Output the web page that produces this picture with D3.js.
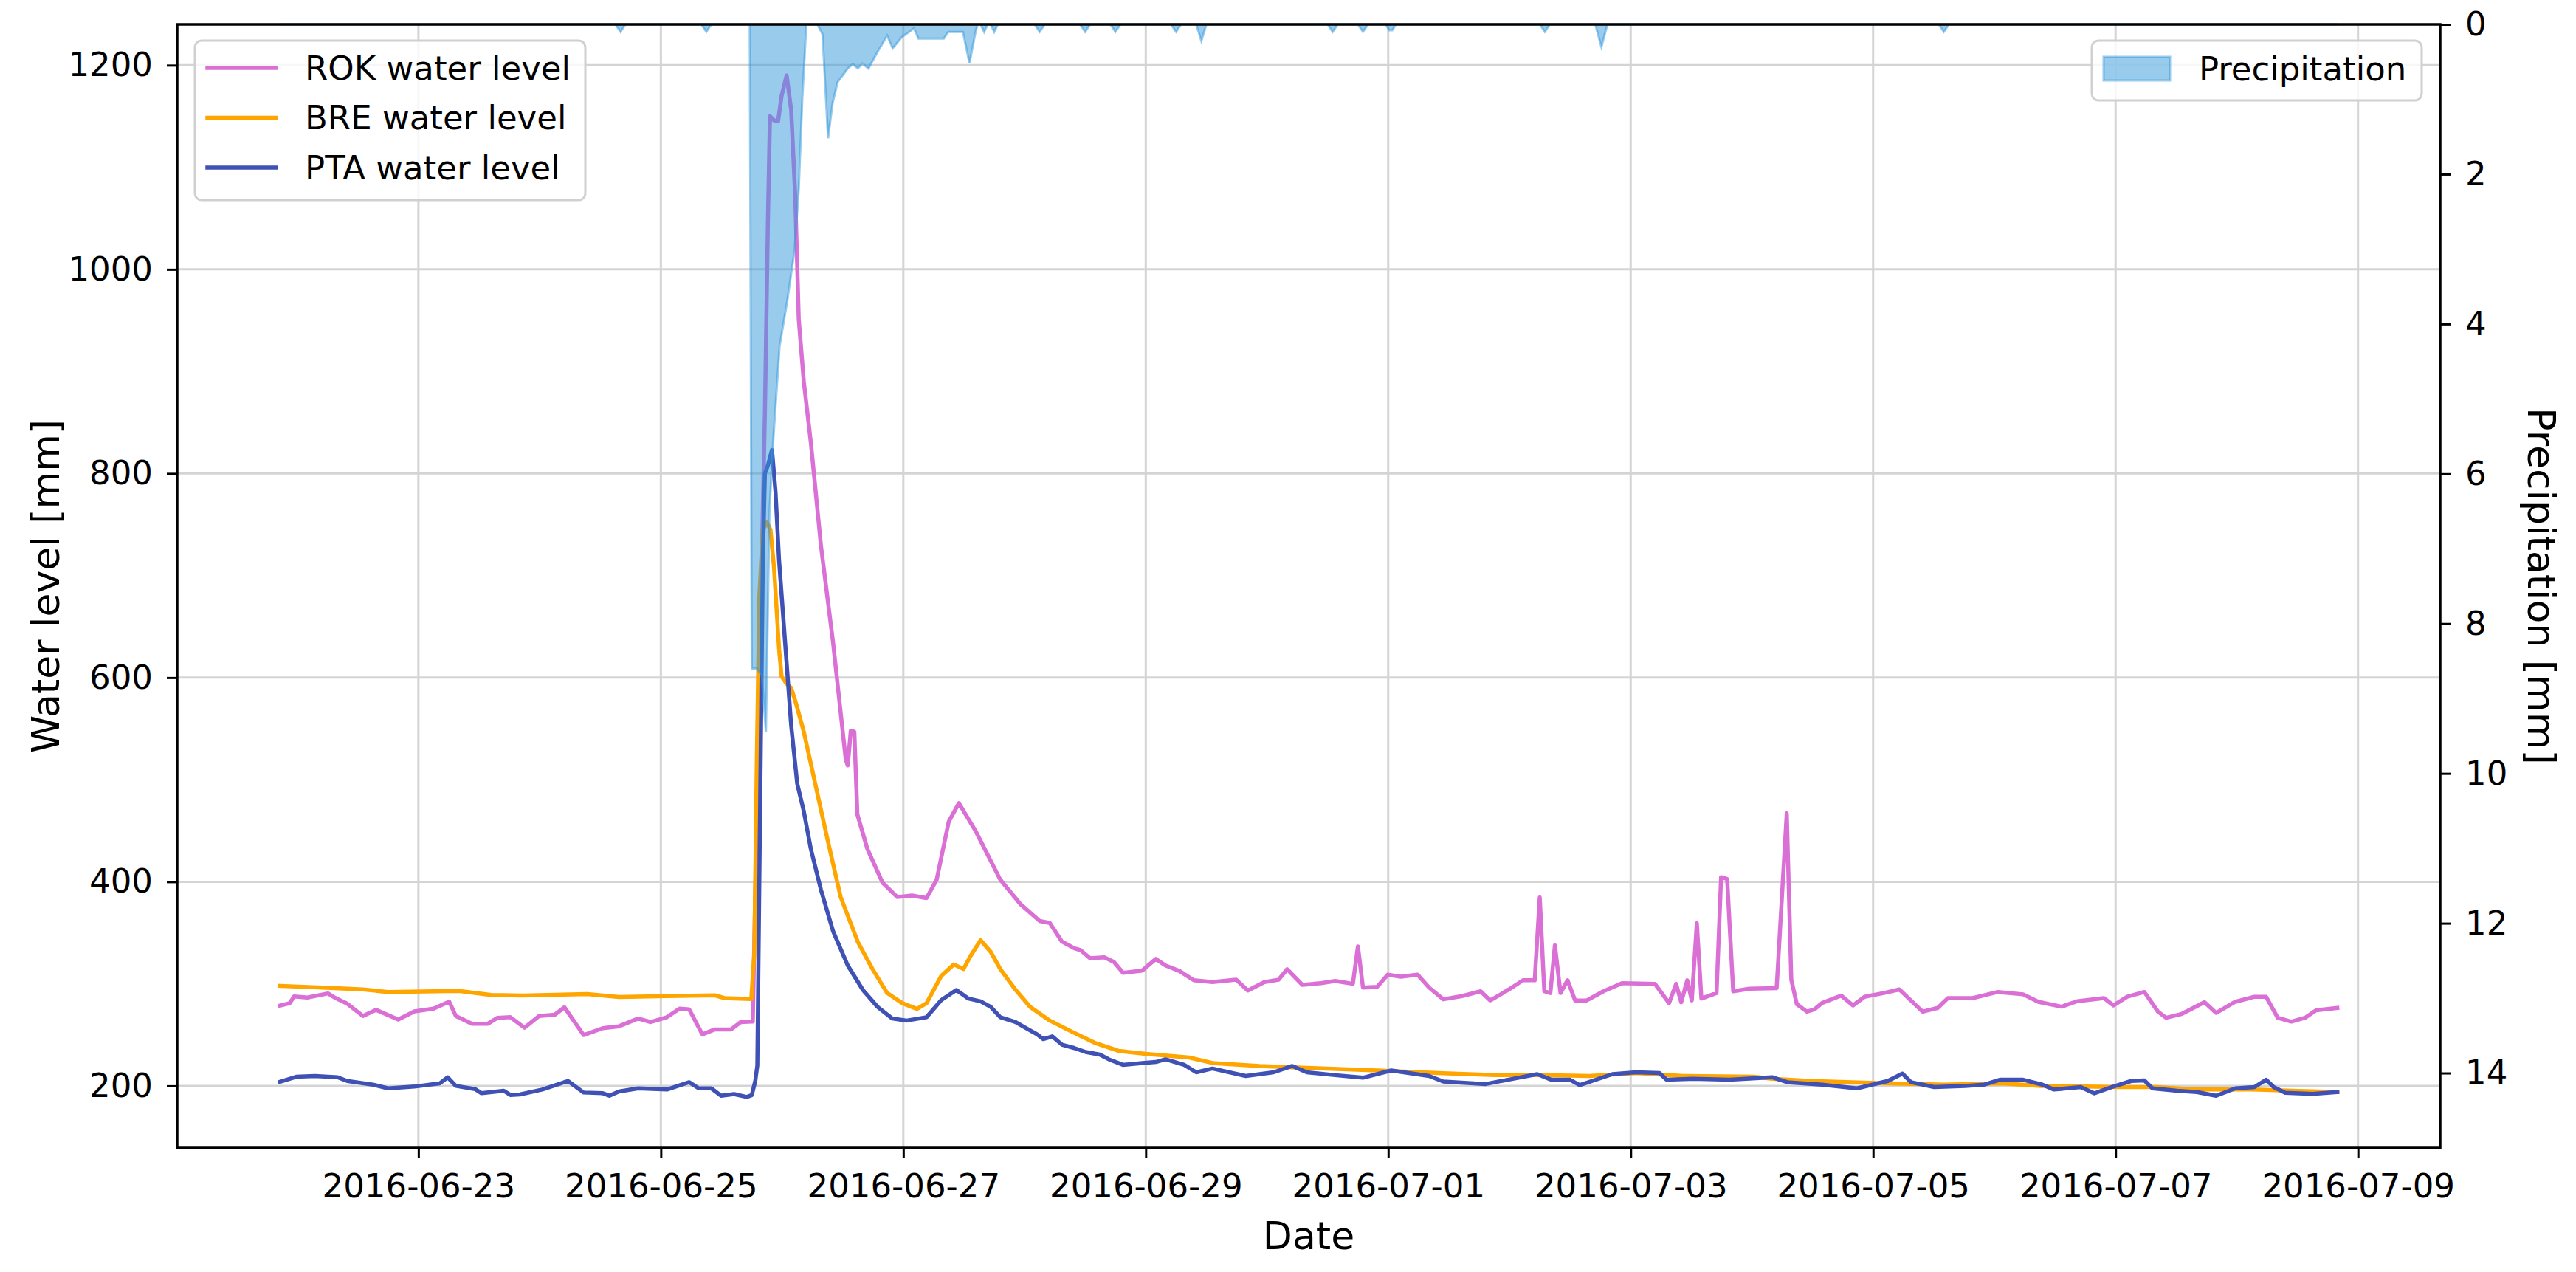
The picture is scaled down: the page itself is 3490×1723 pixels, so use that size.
<!DOCTYPE html>
<html>
<head>
<meta charset="utf-8">
<script src="https://cdn.jsdelivr.net/npm/d3@7"></script>
<style>
  html, body { margin: 0; padding: 0; background: #fff; }
  svg { display: block; font-family: 'DejaVu Sans', sans-serif; }
</style>
</head>
<body>
<div id="vis-main"></div>
<script>

/* Data */
/* ---- */

// hours since 2016-06-22 00:00 UTC, value
var baseTime = Date.UTC(2016, 5, 22);

var rokLevel = [
	[-3.4, 278.6], [-1.5, 281], [-0.6, 287.7], [2, 286.5], [6.1, 290.6], [7.4, 286.5], [9.9, 280.5],
	[13, 268.5], [15.6, 274.5], [20, 265], [23.2, 273], [27, 275.7], [30.1, 282.5], [31.4, 268.5],
	[34.6, 260.8], [37.7, 260.8], [39.6, 266.6], [42.2, 267.3], [45, 257], [47.9, 268.5], [51, 269.7],
	[52.9, 277], [56.7, 249.8], [60.5, 256.5], [63.7, 258.4], [67.5, 266], [70, 262.5], [73.2, 267.3],
	[75.7, 275.7], [77.6, 275], [80.2, 250.5], [82.7, 255.3], [85.9, 255.3], [87.8, 262.5], [90.2, 263],
	[91.2, 520], [92, 720], [92.6, 860], [93.2, 1050], [93.6, 1150], [94.4, 1146], [95.2, 1145],
	[95.9, 1170], [96.9, 1190], [97.8, 1156], [98.6, 1072], [99.3, 951], [100.3, 890], [101.7, 830],
	[103.7, 729], [106.1, 634], [108.6, 520], [109, 514], [109.6, 548], [110.3, 547], [110.9, 466],
	[112.9, 432], [115.9, 399], [118.8, 385], [121.7, 386.5], [124.6, 384], [126.6, 402], [129, 459],
	[131, 477], [134.4, 449], [139.2, 402], [143.1, 378.5], [147, 361.6], [149, 359.6], [151.4, 341.4],
	[153.9, 334.7], [155.1, 333], [157, 325], [159.8, 326], [161.7, 321.5], [163.5, 310.7], [167.3, 313],
	[170, 324.4], [171.9, 318], [174.7, 312.5], [177.5, 303.5], [181.2, 301.7], [185.9, 304], [188.2, 293.4],
	[191.5, 301.7], [194.3, 304], [196, 314.3], [199, 299], [202.7, 300.6], [205.5, 302.8], [209, 300],
	[210, 336.7], [211, 296.3], [213.8, 297], [215.9, 309], [218.5, 307], [221.8, 309], [224.1, 296.3],
	[226.9, 284.8], [230.6, 288], [234.3, 292.7], [236.2, 283.7], [239.9, 294.5], [242.7, 303.5], [245, 303.5],
	[246, 384.7], [246.9, 292.7], [248.1, 291], [249, 337.8], [250.1, 291], [251.5, 303.5], [253, 283.7],
	[255.3, 283.7], [258.6, 292.7], [262.3, 300.6], [268.8, 300], [271.6, 281], [273, 300], [274, 281.9],
	[275.2, 303.5], [276.1, 283.7], [277.1, 359.4], [278, 285.5], [281, 291], [281.9, 404.5], [283.1, 402.7],
	[284.3, 292.7], [287.5, 295.2], [292.9, 295.8], [294.9, 467], [295.8, 304], [296.9, 280], [298.9, 272.7],
	[300.4, 275], [301.9, 281.2], [305.7, 288.5], [308, 278.8], [310.3, 287.3], [314.1, 291], [317.2, 294.5],
	[321.8, 272.7], [324.8, 276.4], [326.8, 286], [331.7, 286], [336.7, 292], [341.7, 289.7], [344.7, 282.4],
	[349.3, 277.6], [352.4, 282.9], [357.7, 286], [359.6, 278.8], [362.3, 287.3], [365.7, 292], [368.4, 272.7],
	[370, 266.7], [373, 270.3], [377.6, 282], [379.9, 271.5], [383.7, 282.4], [387.5, 287.3], [389.8, 287.3],
	[392.1, 266.7], [394.8, 263], [397.5, 266.7], [399.7, 274], [403.9, 276.4]
];

var breLevel = [
	[-3.4, 298], [6.7, 296], [13, 294.5], [18, 292], [32, 293], [38.4, 289], [44.7, 288.5], [57.4, 290],
	[63.7, 287], [73.2, 288], [82.7, 288.7], [84.6, 286], [89.9, 285], [90.5, 330], [91, 520], [91.5, 680],
	[92.2, 745], [93, 752], [93.7, 745], [94.4, 708], [95.4, 628], [95.9, 601], [96.9, 594], [97.8, 590],
	[98.8, 574], [100.3, 547], [102.7, 493], [105.1, 439], [107.6, 385], [111, 341], [113.9, 314.5],
	[116.8, 291], [119.8, 281], [122.7, 275.4], [124.6, 281], [127.5, 307.7], [130, 319], [131.9, 314.5],
	[133.4, 328], [135.3, 342.8], [137.3, 331.3], [139.2, 314.5], [142.2, 294.3], [145.1, 277.4], [149, 264],
	[153.4, 253], [157.9, 242.2], [162.6, 234.3], [168, 231.4], [176.6, 227.8], [181.2, 222.4], [190.5, 219.5],
	[199.9, 217.7], [213.8, 215.1], [227.8, 212.3], [237.1, 210.5], [246.4, 210.5], [255.8, 209.7],
	[265.1, 212.6], [274.4, 209.7], [288.4, 209], [292, 207], [299.6, 204.8], [314.9, 202.4], [326, 201.2],
	[337.6, 202.4], [345.2, 200], [360.5, 198.8], [368.2, 198.8], [375.8, 196.4], [387.3, 196.4],
	[395, 195.2], [403.9, 194]
];

var ptaLevel = [
	[-3.4, 204], [-0.2, 208.9], [3.5, 209.6], [8, 208.4], [9.9, 204.8], [15, 201.2], [18, 197.6],
	[23.2, 199.3], [28.2, 202.4], [29.8, 208.4], [31.4, 200], [35.2, 196.9], [36.5, 192.8], [40.9, 195.2],
	[42.2, 191.1], [44.1, 191.6], [48.5, 196.4], [53.6, 204.8], [56.7, 193.5], [60.5, 192.8], [61.8, 190.4],
	[63.7, 194.5], [67.5, 197.6], [73.2, 196.4], [77.6, 203.6], [79.5, 197.6], [82, 197.6], [83.9, 190.4],
	[86.5, 192], [89, 189.2], [90, 191], [90.7, 205], [91.1, 220], [91.6, 450], [92.2, 720], [92.6, 800],
	[93.2, 808], [94, 823], [94.7, 782], [95.4, 715], [96.9, 614], [97.8, 553], [99, 496], [100.3, 469],
	[101.7, 432], [103.7, 392], [106.1, 351.5], [109, 318], [112, 294], [114.9, 277.4], [117.8, 266],
	[120.7, 264], [124.6, 267.3], [127.5, 284], [130.5, 294], [132.9, 285.5], [135.3, 282.8], [137.3, 277.4],
	[139.2, 267.3], [142.2, 262.6], [144.1, 257.2], [146.5, 250.5], [147.7, 245.8], [149.5, 248.5],
	[151.4, 240.4], [153.9, 237], [156.1, 233.2], [158.9, 230.7], [160.7, 226], [163.5, 220.6], [167.3, 222.4],
	[170, 223.4], [171.9, 226], [175.6, 220.6], [178, 213.3], [181.2, 217], [187.8, 209.7], [193.3, 213.3],
	[197, 219.5], [199.9, 213.3], [205.5, 210.5], [211, 208], [216.6, 215.1], [224.1, 209.7], [226.9, 204.3],
	[235.3, 201.8], [241.8, 208], [245.5, 211.5], [248.3, 206], [252, 206], [253.9, 200.7], [260.4, 211.5],
	[265.1, 213.3], [269.7, 212.6], [271.1, 206], [276.2, 206.9], [283.6, 206], [292, 208.5], [295, 203.6],
	[301.9, 201.2], [308.8, 197.6], [314.9, 204.8], [317.8, 212], [319.5, 203.6], [324.1, 198.8], [330.2, 200],
	[334, 201.2], [337.1, 206], [341.7, 206], [345.5, 201.2], [347.8, 196.4], [353.1, 198.8], [355.8, 192.7],
	[359.2, 198.8], [363.1, 204.8], [365.7, 205.3], [367.3, 197.6], [372.2, 195.2], [376.1, 194],
	[379.9, 190.3], [383.7, 197.6], [387.5, 198.8], [389.8, 206], [391.3, 198.8], [393.6, 193.2],
	[399, 192.2], [403.9, 194]
];

var precipitation = [
	[-3.4, 0], [63, 0], [64, 0.1], [65, 0], [80, 0], [81, 0.1], [82, 0], [89.6, 0], [90, 8.6], [91, 8.6],
	[92, 8.7], [92.8, 9.45], [93.5, 6.5], [94.3, 5.5], [95.5, 4.3], [97, 3.7], [98.5, 3.0], [99.3, 2.2],
	[100, 1.0], [100.8, 0], [103, 0], [104, 0.13], [105.1, 1.52], [106, 1.05], [107, 0.77], [109, 0.59],
	[110, 0.53], [111, 0.59], [111.9, 0.52], [113.1, 0.59], [114.8, 0.38], [116.8, 0.15], [117.9, 0.32],
	[119.7, 0.17], [121.2, 0.1], [122.1, 0.05], [123, 0.19], [128, 0.19], [128.9, 0.1], [131.8, 0.1],
	[133.1, 0.52], [134.3, 0.1], [134.7, 0], [135.3, 0], [136, 0.1], [136.7, 0], [137.3, 0], [138, 0.1],
	[138.7, 0], [146, 0], [147, 0.1], [148, 0], [155, 0], [156, 0.1], [157, 0], [161, 0], [162, 0.1],
	[163, 0], [173, 0], [174, 0.1], [175, 0], [178, 0], [179, 0.22], [180, 0], [204, 0], [205, 0.1],
	[206, 0], [210, 0], [211, 0.1], [212, 0], [215.5, 0], [216.2, 0.08], [216.8, 0.08], [217.5, 0],
	[246, 0], [247, 0.1], [248, 0], [257, 0], [258.2, 0.3], [259.4, 0], [325, 0], [326, 0.1], [327, 0],
	[403.9, 0]
];

var xTickLabels = ['2016-06-23', '2016-06-25', '2016-06-27', '2016-06-29', '2016-07-01',
	'2016-07-03', '2016-07-05', '2016-07-07', '2016-07-09'];
var levelTicks = [200, 400, 600, 800, 1000, 1200];
var precipTicks = [0, 2, 4, 6, 8, 10, 12, 14];

var seriesNames = ['ROK water level', 'BRE water level', 'PTA water level'];
var seriesColours = ['#da70d6', '#ffa500', '#3f51b5'];


/* Globals */
/* ------- */

var vis = {};
vis.dims = { width: 3490, height: 1723, margin: { top: 33, right: 184, bottom: 168, left: 240 } };
vis.scale = {};
vis.font = 'DejaVu Sans, sans-serif';
vis.lineWidth = 5.5;


/* Helpers */
/* ------- */

function toDate(h) {
	return new Date(baseTime + h * 3600e3);
} // toDate()

function padExtent(ext, frac) {
	var pad = (ext[1] - ext[0]) * frac;
	return [ext[0] - pad, ext[1] + pad];
} // padExtent()


/* Setup */
/* ----- */

function setupVisual() {

	var m = vis.dims.margin;

	vis.dims.left = m.left;
	vis.dims.right = vis.dims.width - m.right;
	vis.dims.top = m.top;
	vis.dims.bottom = vis.dims.height - m.bottom;

	vis.svg = d3.select('#vis-main')
		.append('svg')
			.attr('width', vis.dims.width)
			.attr('height', vis.dims.height)
			.attr('viewBox', '0 0 ' + vis.dims.width + ' ' + vis.dims.height);

	vis.svg.append('rect')
		.attr('width', vis.dims.width)
		.attr('height', vis.dims.height)
		.attr('fill', '#fff');

} // setupVisual()

function setScales() {

	var levels = [rokLevel, breLevel, ptaLevel];
	var hours = d3.merge(levels).map(function(d) { return d[0]; });
	var values = d3.merge(levels).map(function(d) { return d[1]; });

	var hExt = padExtent(d3.extent(hours), 0.05);
	var vExt = padExtent(d3.extent(values), 0.05);

	vis.scale.x = d3.scaleUtc()
		.domain([toDate(hExt[0]), toDate(hExt[1])])
		.range([vis.dims.left, vis.dims.right]);

	vis.scale.y = d3.scaleLinear()
		.domain(vExt)
		.range([vis.dims.bottom, vis.dims.top]);

	// precipitation axis is inverted: 0 at the top
	vis.scale.yP = d3.scaleLinear()
		.domain([0, 15])
		.range([vis.dims.top, vis.dims.bottom]);

} // setScales()


/* Draw */
/* ---- */

function drawGrid() {

	var g = vis.svg.append('g').attr('class', 'grid');
	var parse = d3.utcParse('%Y-%m-%d');

	g.selectAll('.vgrid')
		.data(xTickLabels)
		.enter().append('line')
			.attr('x1', function(d) { return vis.scale.x(parse(d)); })
			.attr('x2', function(d) { return vis.scale.x(parse(d)); })
			.attr('y1', vis.dims.top)
			.attr('y2', vis.dims.bottom)
			.attr('stroke', '#d4d4d4')
			.attr('stroke-width', 3);

	g.selectAll('.hgrid')
		.data(levelTicks)
		.enter().append('line')
			.attr('x1', vis.dims.left)
			.attr('x2', vis.dims.right)
			.attr('y1', function(d) { return vis.scale.y(d); })
			.attr('y2', function(d) { return vis.scale.y(d); })
			.attr('stroke', '#d4d4d4')
			.attr('stroke-width', 3);

} // drawGrid()

function drawLines() {

	var line = d3.line()
		.x(function(d) { return vis.scale.x(toDate(d[0])); })
		.y(function(d) { return vis.scale.y(d[1]); });

	var g = vis.svg.append('g').attr('class', 'lines');

	[rokLevel, breLevel, ptaLevel].forEach(function(series, i) {
		g.append('path')
			.datum(series)
			.attr('d', line)
			.attr('fill', 'none')
			.attr('stroke', seriesColours[i])
			.attr('stroke-width', vis.lineWidth)
			.attr('stroke-linejoin', 'round')
			.attr('stroke-linecap', 'square');
	});

} // drawLines()

function drawPrecip() {

	var area = d3.area()
		.x(function(d) { return vis.scale.x(toDate(d[0])); })
		.y0(vis.scale.yP(0))
		.y1(function(d) { return vis.scale.yP(d[1]); });

	vis.svg.append('path')
		.datum(precipitation)
		.attr('d', area)
		.attr('fill', '#3498db')
		.attr('fill-opacity', 0.5)
		.attr('stroke', '#3498db')
		.attr('stroke-opacity', 0.5)
		.attr('stroke-width', 3);

} // drawPrecip()

function drawAxes() {

	var parse = d3.utcParse('%Y-%m-%d');
	var fmt = d3.utcFormat('%Y-%m-%d');

	var xAxis = d3.axisBottom(vis.scale.x)
		.tickValues(xTickLabels.map(parse))
		.tickFormat(fmt)
		.tickSizeInner(14).tickSizeOuter(0).tickPadding(21);

	var yAxis = d3.axisLeft(vis.scale.y)
		.tickValues(levelTicks)
		.tickFormat(d3.format('d'))
		.tickSizeInner(14).tickSizeOuter(0).tickPadding(19);

	var yAxisP = d3.axisRight(vis.scale.yP)
		.tickValues(precipTicks)
		.tickFormat(d3.format('d'))
		.tickSizeInner(14).tickSizeOuter(0).tickPadding(20);

	var gx = vis.svg.append('g').attr('transform', 'translate(0,' + vis.dims.bottom + ')').call(xAxis);
	var gy = vis.svg.append('g').attr('transform', 'translate(' + vis.dims.left + ',0)').call(yAxis);
	var gp = vis.svg.append('g').attr('transform', 'translate(' + vis.dims.right + ',0)').call(yAxisP);

	[gx, gy, gp].forEach(function(g) {
		g.select('.domain').remove();
		g.selectAll('.tick line').attr('stroke', '#000').attr('stroke-width', 3);
		g.selectAll('.tick text')
			.attr('fill', '#000')
			.style('font-family', vis.font)
			.style('font-size', '45px');
	});

	// frame
	vis.svg.append('rect')
		.attr('x', vis.dims.left)
		.attr('y', vis.dims.top)
		.attr('width', vis.dims.right - vis.dims.left)
		.attr('height', vis.dims.bottom - vis.dims.top)
		.attr('fill', 'none')
		.attr('stroke', '#000')
		.attr('stroke-width', 3.5);

	// labels
	var midY = (vis.dims.top + vis.dims.bottom) / 2;

	vis.svg.append('text')
		.attr('x', (vis.dims.left + vis.dims.right) / 2)
		.attr('y', 1692)
		.attr('text-anchor', 'middle')
		.style('font-family', vis.font)
		.style('font-size', '52px')
		.text('Date');

	vis.svg.append('text')
		.attr('transform', 'translate(80,' + midY + ') rotate(-90)')
		.attr('text-anchor', 'middle')
		.style('font-family', vis.font)
		.style('font-size', '52px')
		.text('Water level [mm]');

	vis.svg.append('text')
		.attr('transform', 'translate(3425,' + midY + ') rotate(90)')
		.attr('text-anchor', 'middle')
		.style('font-family', vis.font)
		.style('font-size', '52px')
		.text('Precipitation [mm]');

} // drawAxes()

function drawLegends() {

	// water level legend, upper left
	var lg = vis.svg.append('g').attr('class', 'legend-left');

	lg.append('rect')
		.attr('x', 264).attr('y', 55)
		.attr('width', 529).attr('height', 216)
		.attr('rx', 9)
		.attr('fill', '#fff').attr('fill-opacity', 0.8)
		.attr('stroke', '#d0d0d0').attr('stroke-width', 3);

	var rows = lg.selectAll('.row')
		.data(seriesNames)
		.enter().append('g')
			.attr('transform', function(d, i) { return 'translate(0,' + (92 + i * 67.5) + ')'; });

	rows.append('line')
		.attr('x1', 281).attr('x2', 374)
		.attr('stroke', function(d, i) { return seriesColours[i]; })
		.attr('stroke-width', vis.lineWidth)
		.attr('stroke-linecap', 'square');

	rows.append('text')
		.attr('x', 413)
		.attr('dy', '0.35em')
		.style('font-family', vis.font)
		.style('font-size', '45px')
		.text(function(d) { return d; });

	// precipitation legend, upper right
	var rg = vis.svg.append('g').attr('class', 'legend-right');

	rg.append('rect')
		.attr('x', 2834).attr('y', 55)
		.attr('width', 447).attr('height', 81)
		.attr('rx', 9)
		.attr('fill', '#fff').attr('fill-opacity', 0.8)
		.attr('stroke', '#d0d0d0').attr('stroke-width', 3);

	rg.append('rect')
		.attr('x', 2850).attr('y', 77)
		.attr('width', 90).attr('height', 32)
		.attr('fill', '#3498db').attr('fill-opacity', 0.5)
		.attr('stroke', '#3498db').attr('stroke-opacity', 0.5)
		.attr('stroke-width', 3);

	rg.append('text')
		.attr('x', 2979).attr('y', 93)
		.attr('dy', '0.35em')
		.style('font-family', vis.font)
		.style('font-size', '45px')
		.text('Precipitation');

} // drawLegends()


/* Run */
/* --- */

setupVisual();
setScales();
drawGrid();
drawLines();
drawPrecip();
drawAxes();
drawLegends();

</script>
</body>
</html>
